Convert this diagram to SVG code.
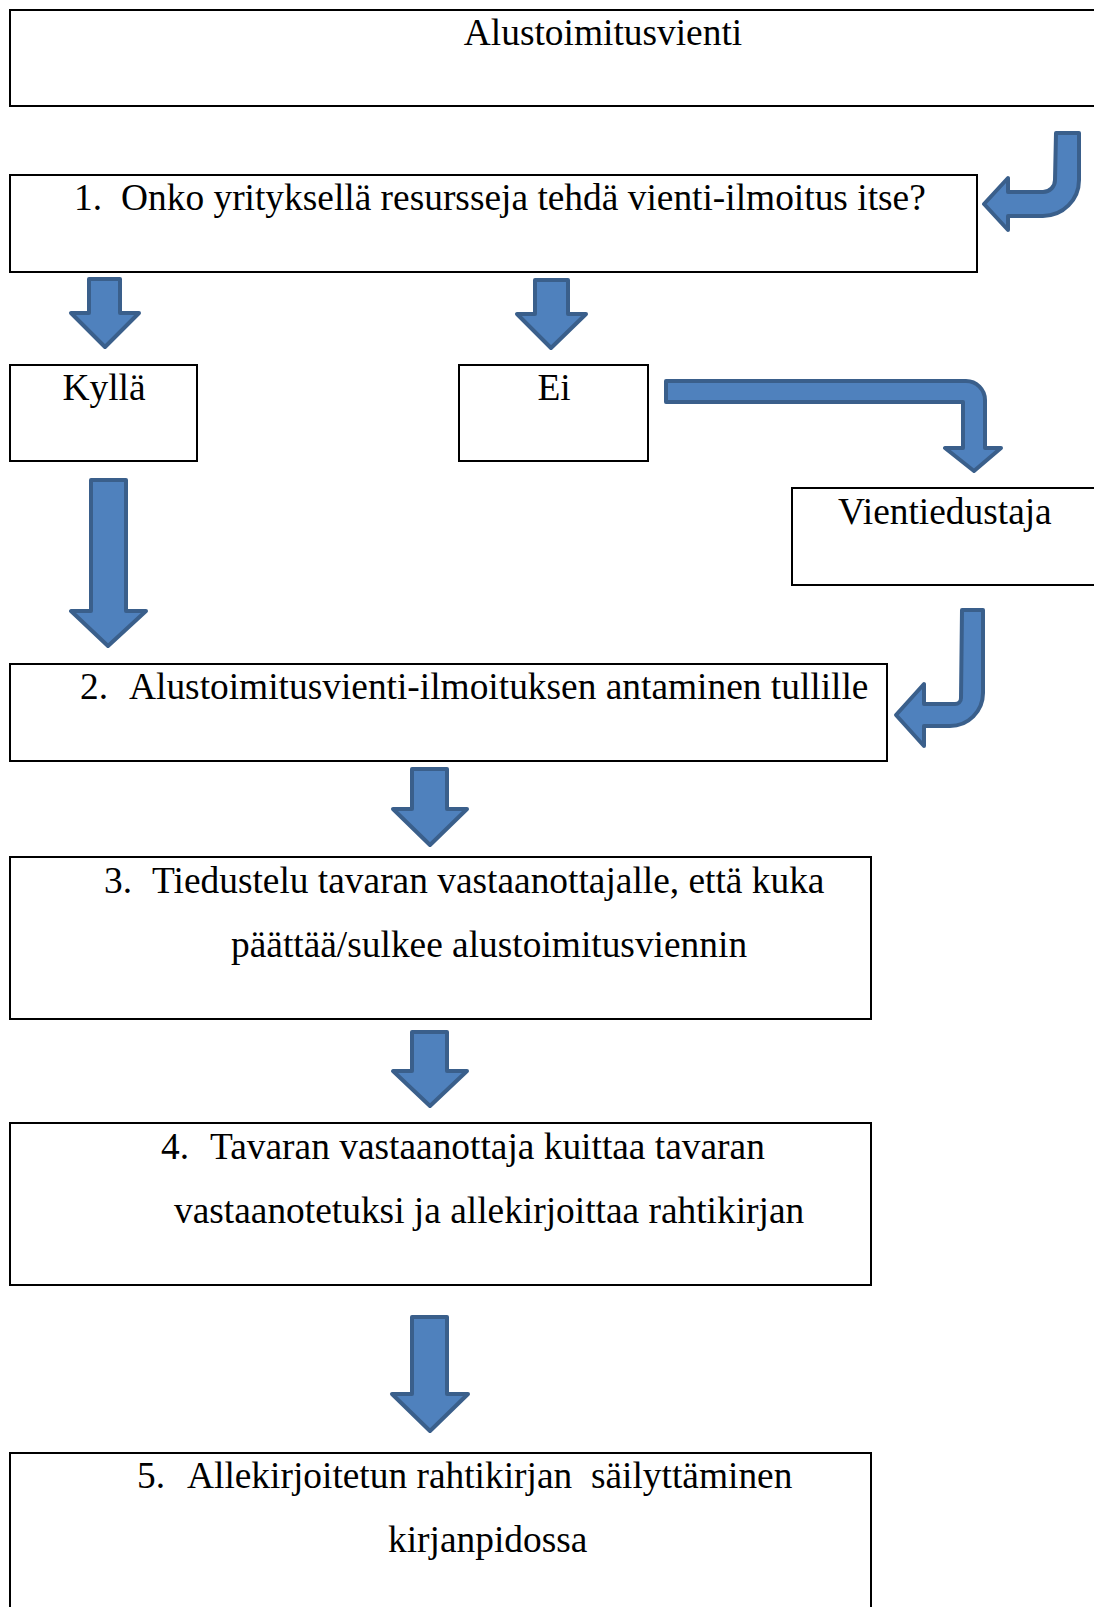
<svg xmlns="http://www.w3.org/2000/svg" width="1094" height="1607" viewBox="0 0 1094 1607">
  <style>
    .box { fill: #ffffff; stroke: #000000; stroke-width: 2; }
    .lbl { font-family: "Liberation Serif", "Times New Roman", serif; font-size: 37.4px; fill: #000000; }
    .mid { text-anchor: middle; }
    .arrow { fill: #4F81BD; stroke: #3A5F8B; stroke-width: 4; stroke-linejoin: round; }
  </style>
  <rect width="1094" height="1607" fill="#ffffff"/>

  <!-- process boxes -->
  <g id="start">
    <rect class="box" x="10" y="10" width="1100" height="96"/>
    <text class="lbl mid" x="603" y="45">Alustoimitusvienti</text>
  </g>
  <g id="step1">
    <rect class="box" x="10" y="175" width="967" height="97"/>
    <text class="lbl" x="74" y="210">1.</text>
    <text class="lbl" x="121" y="210">Onko yrityksellä resursseja tehdä vienti-ilmoitus itse?</text>
  </g>
  <g id="yes">
    <rect class="box" x="10" y="365" width="187" height="96"/>
    <text class="lbl mid" x="104" y="400">Kyllä</text>
  </g>
  <g id="no">
    <rect class="box" x="459" y="365" width="189" height="96"/>
    <text class="lbl mid" x="554" y="400">Ei</text>
  </g>
  <g id="agent">
    <rect class="box" x="792" y="488" width="320" height="97"/>
    <text class="lbl" x="838" y="524">Vientiedustaja</text>
  </g>
  <g id="step2">
    <rect class="box" x="10" y="664" width="877" height="97"/>
    <text class="lbl" x="80" y="699">2.</text>
    <text class="lbl" x="129" y="699">Alustoimitusvienti-ilmoituksen antaminen tullille</text>
  </g>
  <g id="step3">
    <rect class="box" x="10" y="857" width="861" height="162"/>
    <text class="lbl" x="104" y="893">3.</text>
    <text class="lbl" x="152" y="893">Tiedustelu tavaran vastaanottajalle, että kuka</text>
    <text class="lbl" x="231" y="957">päättää/sulkee alustoimitusviennin</text>
  </g>
  <g id="step4">
    <rect class="box" x="10" y="1123" width="861" height="162"/>
    <text class="lbl" x="161" y="1159">4.</text>
    <text class="lbl" x="210" y="1159">Tavaran vastaanottaja kuittaa tavaran</text>
    <text class="lbl" x="174" y="1223">vastaanotetuksi ja allekirjoittaa rahtikirjan</text>
  </g>
  <g id="step5">
    <rect class="box" x="10" y="1453" width="861" height="180"/>
    <text class="lbl" x="137" y="1488">5.</text>
    <text class="lbl" x="187" y="1488" xml:space="preserve">Allekirjoitetun rahtikirjan  säilyttäminen</text>
    <text class="lbl" x="388" y="1552">kirjanpidossa</text>
  </g>

  <!-- block arrows -->
  <g id="connectors">
    <!-- start -> step 1 (bent, pointing left) -->
    <path class="arrow" d="M1056,133 L1079,133 L1079,180 A36,36 0 0 1 1043,216 L1008,216 L1008,230 L984,204 L1008,178 L1008,192 L1043,192 A12,12 0 0 0 1055,180 Z"/>
    <!-- step 1 -> Kyllä -->
    <path class="arrow" d="M89,279 L120,279 L120,313 L139,313 L105,347 L71,313 L89,313 Z"/>
    <!-- step 1 -> Ei -->
    <path class="arrow" d="M535,280 L568,280 L568,314 L586,314 L551,348 L517,314 L535,314 Z"/>
    <!-- Ei -> Vientiedustaja -->
    <path class="arrow" d="M666,381 L966,381 A19,19 0 0 1 985,400 L985,448 L1001,448 L974,471 L945,448 L963,448 L963,402 L666,402 Z"/>
    <!-- Kyllä -> step 2 -->
    <path class="arrow" d="M91,480 L126,480 L126,611 L146,611 L108,646 L71,611 L91,611 Z"/>
    <!-- Vientiedustaja -> step 2 (bent, pointing left) -->
    <path class="arrow" d="M962,610 L983,610 L983,693 A33,33 0 0 1 950,726 L924,726 L924,746 L896,715 L924,684 L924,704 L955,704 A6,6 0 0 0 961,698 Z"/>
    <!-- step 2 -> step 3 -->
    <path class="arrow" d="M412,769 L447,769 L447,809 L467,809 L430,845 L393,809 L412,809 Z"/>
    <!-- step 3 -> step 4 -->
    <path class="arrow" d="M412,1032 L447,1032 L447,1071 L467,1071 L430,1106 L393,1071 L412,1071 Z"/>
    <!-- step 4 -> step 5 -->
    <path class="arrow" d="M412,1317 L447,1317 L447,1394 L468,1394 L430,1431 L392,1394 L412,1394 Z"/>
  </g>
</svg>
